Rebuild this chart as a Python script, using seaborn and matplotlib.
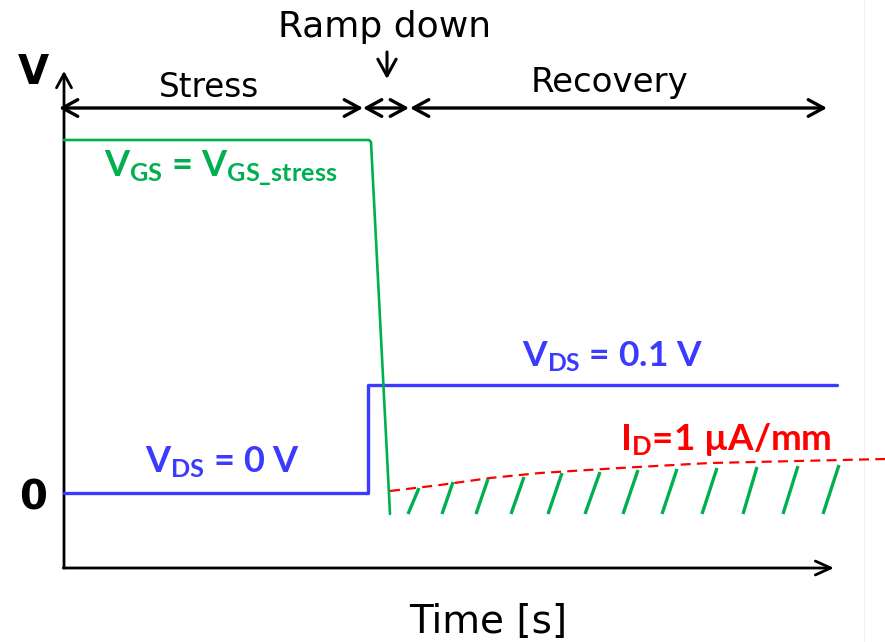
import numpy as np
import pandas as pd
import matplotlib
matplotlib.use("Agg")
import matplotlib.pyplot as plt
import seaborn as sns

# ---------------- data (time in arbitrary s, voltage in arbitrary V) ----------------
vgs_t = [0.00, 3.05, 3.07, 3.26]
vgs_v = [3.53, 3.53, 3.51, -0.21]

vds_t = [0.00, 3.04, 3.04, 7.73]
vds_v = [0.00, 0.00, 1.08, 1.08]

id_t = [3.26, 3.76, 4.26, 4.76, 5.56, 6.46, 8.21]
id_v = [0.02, 0.08, 0.15, 0.20, 0.25, 0.30, 0.34]

hatch_t0 = [3.44, 3.78, 4.12, 4.47, 4.84, 5.21, 5.59, 5.98, 6.38, 6.79, 7.19, 7.59]
hatch_t1 = [3.55, 3.89, 4.24, 4.60, 4.98, 5.36, 5.74, 6.13, 6.53, 6.93, 7.34, 7.75]
hatch_v0 = -0.21
hatch_v1 = [0.05, 0.11, 0.14, 0.16, 0.20, 0.21, 0.23, 0.24, 0.25, 0.26, 0.27, 0.28]

phase_names = ["Stress", "Ramp down", "Recovery"]
phase_start = [-0.05, 2.99, 3.46]
phase_end = [2.99, 3.45, 7.63]
phase_level = 3.85

axis_t_end = 7.70
axis_v_bottom = -0.75
axis_v_top = 4.22

GREEN = "#00B050"
BLUE = "#3B3BFF"
RED = "#FF0000"

# ---------------- figure ----------------
sns.set_theme(style="white")
plt.rcParams["font.family"] = ["DejaVu Sans"]
plt.rcParams["mathtext.fontset"] = "custom"
plt.rcParams["mathtext.rm"] = "Lato"
plt.rcParams["mathtext.bf"] = "Lato:bold"
plt.rcParams["mathtext.it"] = "Lato:italic"
plt.rcParams["text.color"] = "black"

fig = plt.figure(figsize=(8.85, 6.42), dpi=100)
ax = fig.add_axes([0, 0, 1, 1])
ax.set_xlim(-0.64, 8.21)
ax.set_ylim(-1.49, 4.93)
ax.axis("off")

# faint right edge line of original slide
ax.axvline(8.00, color="#f0f0f0", lw=0.8, zorder=0)

# axes arrows
ax.annotate("", xy=(0, axis_v_top), xytext=(0, axis_v_bottom),
            arrowprops=dict(arrowstyle="->, head_length=0.5, head_width=0.27",
                            mutation_scale=20, lw=2.0, color="black",
                            shrinkA=0, shrinkB=0))
ax.annotate("", xy=(axis_t_end, axis_v_bottom), xytext=(-0.007, axis_v_bottom),
            arrowprops=dict(arrowstyle="->, head_length=0.55, head_width=0.25",
                            mutation_scale=20, lw=2.0, color="black",
                            shrinkA=0, shrinkB=0))

# phase arrows
for s, e in zip(phase_start, phase_end):
    ax.annotate("", xy=(e, phase_level), xytext=(s, phase_level),
                arrowprops=dict(arrowstyle="<->, head_length=0.55, head_width=0.3",
                                mutation_scale=20, lw=2.4, color="black",
                                shrinkA=0, shrinkB=0))

blk = dict(family="DejaVu Sans", ha="center", va="baseline", color="black")
ax.text(1.45, 3.96, phase_names[0], fontsize=23.5, **blk)
ax.text(3.21, 4.56, phase_names[1], fontsize=26, **blk)
ax.text(5.46, 4.01, phase_names[2], fontsize=24.5, **blk)
ax.annotate("", xy=(3.23, 4.14), xytext=(3.23, 4.41),
            arrowprops=dict(arrowstyle="->, head_length=0.6, head_width=0.33",
                            mutation_scale=20, lw=2.2, color="black",
                            shrinkA=0, shrinkB=0))

# curves
df_vgs = pd.DataFrame({"t": vgs_t, "v": vgs_v})
df_vds = pd.DataFrame({"t": vds_t, "v": vds_v})
df_id = pd.DataFrame({"t": id_t, "v": id_v})

sns.lineplot(data=df_id, x="t", y="v", sort=False, estimator=None, color=RED, lw=1.6,
             linestyle=(0, (4.5, 2.8)), ax=ax, zorder=3)
sns.lineplot(data=df_vds, x="t", y="v", sort=False, estimator=None, color=BLUE, lw=2.4,
             ax=ax, zorder=4)
sns.lineplot(data=df_vgs, x="t", y="v", sort=False, estimator=None, color=GREEN, lw=1.9,
             ax=ax, zorder=5)

rows = []
for i, (a, b, top) in enumerate(zip(hatch_t0, hatch_t1, hatch_v1)):
    rows.append({"h": i, "t": a, "v": hatch_v0})
    rows.append({"h": i, "t": b, "v": top})
df_h = pd.DataFrame(rows)
sns.lineplot(data=df_h, x="t", y="v", units="h", estimator=None, sort=False,
             color=GREEN, lw=2.4, ax=ax, zorder=4, solid_capstyle="butt")

# labels
ax.text(-0.31, 4.09, "V", fontsize=29, fontweight="bold", **blk)
ax.text(-0.31, -0.17, "0", fontsize=29, fontweight="bold", **blk)
ax.text(4.24, -1.40, "Time [s]", fontsize=28, **blk)

lab = dict(family=["Lato", "DejaVu Sans"], fontweight="bold", ha="left", va="baseline")
ax.text(0.40, 3.16, r"V$_\mathbf{GS}$ = V$_\mathbf{GS\_stress}$", fontsize=26,
        color=GREEN, **lab)
ax.text(4.58, 1.26, r"V$_\mathbf{DS}$ = 0.1 V", fontsize=25.5, color=BLUE, **lab)
ax.text(0.81, 0.21, r"V$_\mathbf{DS}$ = 0 V", fontsize=26, color=BLUE, **lab)
ax.text(5.56, 0.43, r"I$_\mathbf{D}$=1 µA/mm", fontsize=26.5, color=RED, **lab)

fig.savefig("out.png", dpi=100)
